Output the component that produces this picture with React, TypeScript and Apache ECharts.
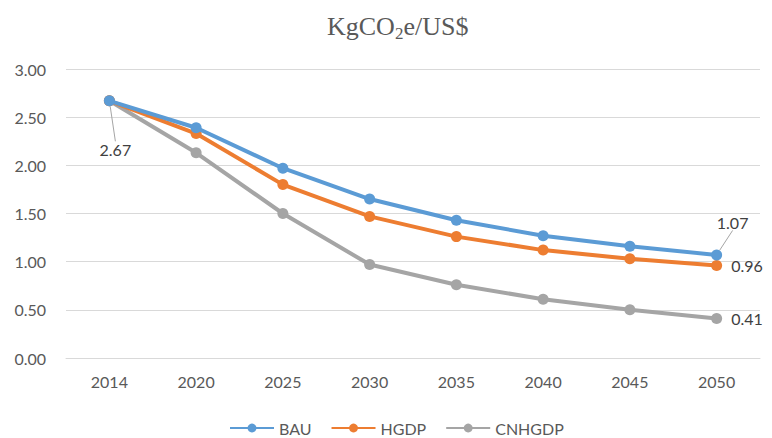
import React, { useEffect, useRef } from "react";
import * as echarts from "echarts";

const categories = ["2014", "2020", "2025", "2030", "2035", "2040", "2045", "2050"];
const bau = [2.67, 2.39, 1.97, 1.65, 1.43, 1.27, 1.16, 1.07];
const hgdp = [2.67, 2.33, 1.8, 1.47, 1.26, 1.12, 1.03, 0.96];
const cnhgdp = [2.67, 2.13, 1.5, 0.97, 0.76, 0.61, 0.5, 0.41];
const seriesNames = ["BAU", "HGDP", "CNHGDP"];
const colors = ["#5B9BD5", "#ED7D31", "#A5A5A5"];

const FONT = "Lato, 'Open Sans', sans-serif";
const SERIF = "'Liberation Serif', 'DejaVu Serif', serif";

export default function App() {
  const ref = useRef<HTMLDivElement>(null);
  useEffect(() => {
    if (!ref.current) return;
    const chart = echarts.init(ref.current, undefined, { renderer: "svg" });
    const last = categories.length - 1;
    const mkSeries = (name: string, data: number[], color: string, idx: number) => {
      const items = data.map((v, i) => {
        let label: any = { show: false };
        let labelLine: any = { show: false };
        if (idx === 2 && i === 0) {
          label = { show: true, position: "bottom" };
          labelLine = { show: true };
        } else if (i === last) {
          if (idx === 0) {
            label = { show: true, position: "top" };
            labelLine = { show: true };
          } else label = { show: true, position: "right", distance: 9 };
        }
        return { value: v, label, labelLine };
      });
      return {
        name,
        type: "line",
        data: items,
        z: 10 - idx,
        symbol: "circle",
        symbolSize: 11,
        lineStyle: { width: 4, color },
        itemStyle: { color },
        label: {
          formatter: (p: any) => p.value.toFixed(2),
          color: "#404040",
          fontSize: 16,
          fontFamily: FONT,
        },
        labelLine: { lineStyle: { color: "#A5A5A5", width: 1 } },
        labelLayout: (p: any) => {
          if (idx === 2 && p.dataIndex === 0) return { dx: 6, dy: 30 };
          if (idx === 0 && p.dataIndex === last) return { dx: 16, dy: -14 };
          return {};
        },
        emphasis: { disabled: true },
      };
    };
    chart.setOption({
      animation: false,
      title: {
        text: "KgCO{sub|2}e/US$",
        left: 322,
        top: 6,
        textStyle: {
          fontFamily: SERIF,
          fontSize: 26,
          fontWeight: "normal",
          color: "#595959",
          lineHeight: 30,
          rich: {
            sub: {
              fontFamily: SERIF,
              fontSize: 17,
              color: "#595959",
              verticalAlign: "top",
              lineHeight: 17,
              padding: [14, 0, 0, 0],
            },
          },
        },
      },
      legend: {
        top: 415,
        left: 224,
        padding: 5,
        itemWidth: 44,
        itemHeight: 11,
        itemGap: 19,
        data: seriesNames,
        textStyle: { fontFamily: FONT, fontSize: 16, color: "#595959" },
      },
      grid: { left: 66, right: 12, top: 69, bottom: 80 },
      xAxis: {
        type: "category",
        data: categories,
        boundaryGap: true,
        axisLine: { show: true, lineStyle: { color: "#D9D9D9" } },
        axisTick: { show: false },
        axisLabel: { color: "#595959", fontSize: 16, fontFamily: FONT, margin: 15 },
      },
      yAxis: {
        type: "value",
        min: 0,
        max: 3,
        interval: 0.5,
        axisLine: { show: false },
        axisTick: { show: false },
        axisLabel: {
          color: "#595959",
          fontSize: 16,
          fontFamily: FONT,
          margin: 20,
          formatter: (v: number) => v.toFixed(2),
        },
        splitLine: { lineStyle: { color: "#D9D9D9", width: 1 } },
      },
      series: [
        mkSeries("BAU", bau, colors[0], 0),
        mkSeries("HGDP", hgdp, colors[1], 1),
        mkSeries("CNHGDP", cnhgdp, colors[2], 2),
      ],
    });
    return () => chart.dispose();
  }, []);
  return <div ref={ref} style={{ width: 772, height: 438, position: "absolute", left: 0, top: 0 }} />;
}
